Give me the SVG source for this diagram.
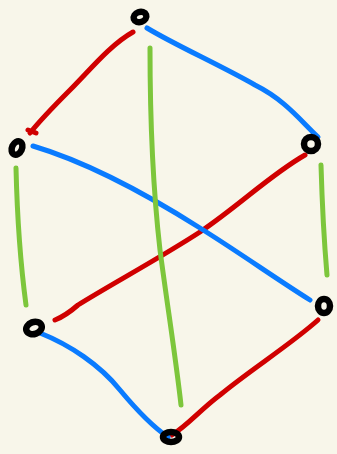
<svg xmlns="http://www.w3.org/2000/svg" width="337" height="454" viewBox="0 0 337 454">
<style>
.e{fill:none;stroke-width:5;stroke-linecap:round;stroke-linejoin:round}
.r{stroke:#d00000}.b{stroke:#0a7bff}.g{stroke:#7dc63c}
.n{fill:none;stroke:#000;stroke-width:6.5}
</style>
<rect width="337" height="454" fill="#f8f6ea"/>
<g id="connectors">
<path class="e r" d="M133,32 C110,45 90,70 70,90 C55,105 42,118 30,133 M28,130 L36,133"/>
<path class="e r" d="M305,155 C270,175 240,205 200,232 C160,258 110,285 78,305 C70,312 65,316 55,320"/>
<path class="e r" d="M318,320 C290,345 250,370 220,395 C200,410 188,425 172,435"/>
<path class="e b" d="M147,28 C175,45 220,65 255,85 C285,100 300,120 318,137"/>
<path class="e b" d="M33,146 C80,160 140,190 200,228 C240,253 275,278 310,300"/>
<path class="e b" d="M40,333 C70,345 100,365 120,390 C135,408 150,425 168,437"/>
<path class="e g" d="M150,48 C150,110 152,180 160,250 C168,310 176,360 181,405"/>
<path class="e g" d="M16,168 C17,210 20,260 26,305"/>
<path class="e g" d="M321,165 C322,200 324,240 327,275"/>
</g>
<g id="n-top"><ellipse class="n" cx="140" cy="17" rx="6.5" ry="5" transform="rotate(-20 140 17)"/></g>
<g id="n-left"><ellipse class="n" cx="17" cy="148" rx="5" ry="7" transform="rotate(25 17 148)"/></g>
<g id="n-right"><ellipse class="n" cx="311" cy="144" rx="7" ry="7"/></g>
<g id="n-lowleft"><ellipse class="n" cx="34" cy="328" rx="8" ry="6" transform="rotate(-20 34 328)"/></g>
<g id="n-lowright"><ellipse class="n" cx="324" cy="306" rx="6" ry="7"/></g>
<g id="n-bottom"><ellipse class="n" cx="171" cy="437" rx="8" ry="5"/></g>
</svg>
